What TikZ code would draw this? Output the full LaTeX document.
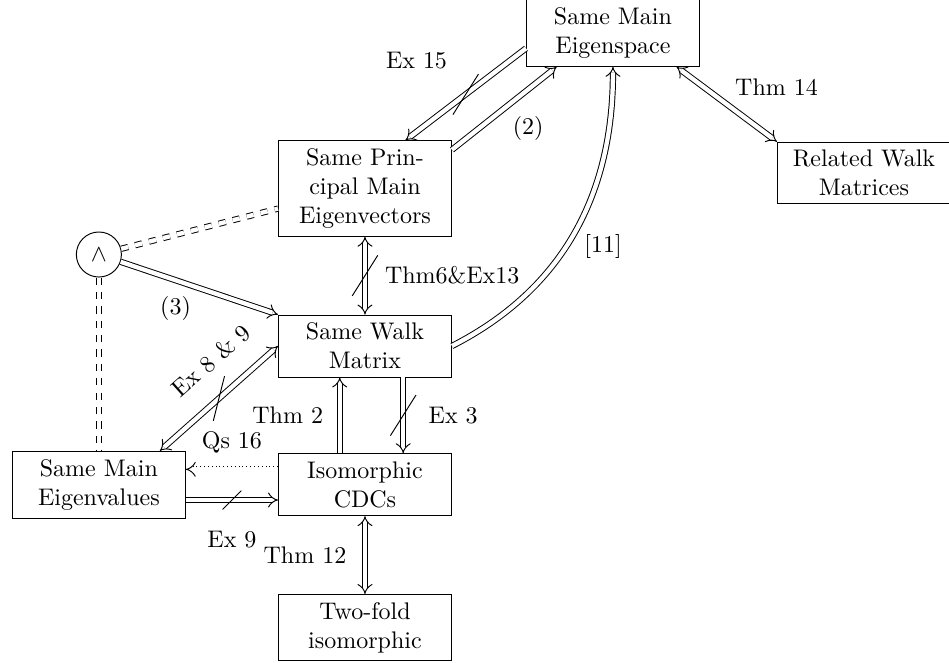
\documentclass[tikz,border=0pt]{standalone}
\usepackage{tikz}
\usetikzlibrary{arrows.meta,positioning,shapes.misc}

\begin{document}
\begin{tikzpicture}[
    box/.style={draw, text width=2.3cm, align=center},
    imp/.style={double, double distance=1.8pt, -{Implies}},
    iff/.style={double, double distance=1.8pt, {Implies}-{Implies}},
    link/.style={double, double distance=1.8pt, dashed},
    cut/.style={draw, solid, strike out, inner sep=0pt, minimum width=0.36cm, minimum height=0.58cm},
  ]
  \useasboundingbox (-5.347,-4.644) rectangle (8.556,5.069);

  % Walk matrix column
  \node[box] (swm) {Same Walk\\Matrix};
  \node[box, above=1.14cm of swm] (pme) {Same Prin-\\cipal Main\\Eigenvectors};
  \node[box, below=1.11cm of swm] (cdc) {Isomorphic\\CDCs};
  \node[box, below=1.14cm of cdc] (tf) {Two-fold\\isomorphic};
  \node[box, left=1.35cm of cdc] (smev) {Same Main\\Eigenvalues};
  \node[draw, circle, minimum size=0.66cm, inner sep=0pt, above=2.54cm of smev] (and) {$\wedge$};

  % Eigenspace side
  \node[box] (es) at (3.633,4.585) {Same Main\\Eigenspace};
  \node[box] (rwm) at (7.31,2.534) {Related Walk\\Matrices};

  \draw[imp] (es.190) -- node[cut]{} node[above left=0.25cm and 0.15cm]{Ex 15} (pme.50);
  \draw[imp] (pme.24) -- node[below right]{(2)} (es.211);
  \draw[iff] (es.332) -- node[above right]{Thm 14} (rwm.north west);
  \draw[imp] (swm.east) to[out=27,in=-90] node[pos=0.45,right=4pt]{[11]} (es.south);
  \draw[iff] (pme) -- node[cut]{} node[right=0.17cm]{Thm6\&Ex13} (swm);

  % conjunction
  \draw[imp] (and) -- node[below left]{(3)} (swm.north west);
  \draw[link] (and) -- (pme.193);
  \draw[link] (and) -- (smev);

  % lower part
  \draw[iff] (smev.29) -- node[cut, minimum width=0.15cm, minimum height=0.64cm]{} node[pos=0.62, sloped, above=0.24cm]{Ex 8 \& 9} (swm.west);
  \draw[imp, dash pattern=on 0.4pt off 1.2pt] (cdc.170) -- node[above=0.12cm]{Qs 16} (smev.10);
  \draw[imp] (smev.350) -- node[cut, minimum width=0.26cm, minimum height=0.26cm]{} node[below=0.33cm]{Ex 9} (cdc.190);
  \draw[imp] ([xshift=-0.37cm]cdc.north) -- node[left=0.12cm]{Thm 2} ([xshift=-0.37cm]swm.south);
  \draw[imp] ([xshift=0.56cm]swm.south) -- node[cut]{} node[right=0.25cm]{Ex 3} ([xshift=0.56cm]cdc.north);
  \draw[iff] (cdc) -- node[left=0.15cm]{Thm 12} (tf);
\end{tikzpicture}
\end{document}
